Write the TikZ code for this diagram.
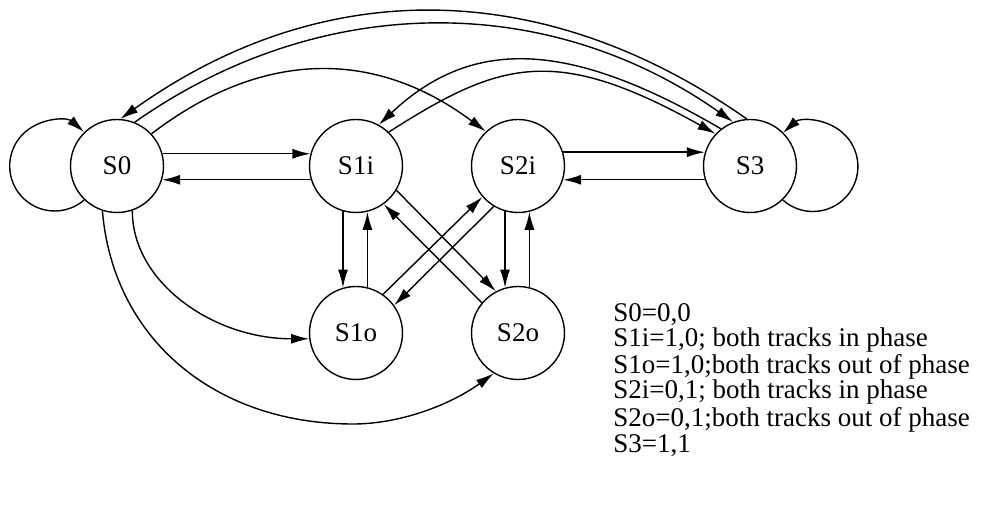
\documentclass[tikz,border=0pt]{standalone}
\usepackage{fontspec}
\setmainfont{Liberation Serif}
\usetikzlibrary{arrows.meta}
\begin{document}
\begin{tikzpicture}[x=0.5pt,y=-0.5pt,
  state/.style={draw, circle, minimum size=46.5pt, inner sep=0pt, line width=0.7pt,
                font=\fontsize{13.5}{16}\selectfont},
  arr/.style={line width=0.7pt, -{Latex[length=9pt,width=5pt]}},
  legendtext/.style={anchor=base west, inner sep=0pt, font=\fontsize{13.5}{16}\selectfont}]
\useasboundingbox (0,0) rectangle (990,507);
% states
\node[state] (S0)  at (117,166) {S0};
\node[state] (S1i) at (356,166) {S1i};
\node[state] (S2i) at (518,166) {S2i};
\node[state] (S3)  at (750,166) {S3};
\node[state] (S1o) at (356,333) {S1o};
\node[state] (S2o) at (518,333) {S2o};
% self loops
\draw[arr] (S0.226) arc[start angle=-49, end angle=-311, radius=22.5pt];
\draw[arr] (S3.-46) arc[start angle=-132, end angle=132, radius=22.5pt];
% horizontal pairs
\draw[arr] (S0.15) -- (S1i.165);
\draw[arr] (S1i.-163) -- (S0.-17);
\draw[arr] (S2i.17) -- (S3.163);
\draw[arr] (S3.-163) -- (S2i.-17);
% vertical pairs
\draw[arr] (S1i.-106) -- (S1o.106);
\draw[arr] (S1o.76) -- (S1i.-76);
\draw[arr] (S2i.-106) -- (S2o.106);
\draw[arr] (S2o.76) -- (S2i.-76);
% diagonals
\draw[arr] (S1i.-31) -- (S2o.118);
\draw[arr] (S2o.140) -- (S1i.-54);
\draw[arr] (S1o.55) -- (S2i.-139);
\draw[arr] (S2i.-121) -- (S1o.36);
% lower curves
\draw[arr] (S0.-71) .. controls (132,282) and (213,339) .. (S1o.187);
\draw[arr] (S0.-108) .. controls (113,338) and (214,424) .. (353,424)
           .. controls (400,424) and (450,405) .. (S2o.-121);
% upper arcs
\draw[arr] (S3.94) .. controls (543,-24) and (322,-25) .. (S0.86);
\draw[arr] (S0.68) .. controls (320,-8) and (547,-9) .. (S3.111);
\draw[arr] (S0.43) .. controls (261,50) and (374,48) .. (S2i.133);
\draw[arr] (S3.128) .. controls (574,43) and (475,34) .. (S1i.61);
\draw[arr] (S1i.46) .. controls (500,61) and (555,44) .. (S3.137);
% legend
\node[legendtext] (l1) at (613,322) {S0=0,0};
\node[legendtext] (l2) at (613,347) {S1i=1,0; both tracks in phase};
\node[legendtext] (l3) at (613,373) {S1o=1,0;both tracks out of phase};
\node[legendtext] (l4) at (613,399) {S2i=0,1; both tracks in phase};
\node[legendtext] (l5) at (613,426) {S2o=0,1;both tracks out of phase};
\node[legendtext] (l6) at (613,452) {S3=1,1};
\end{tikzpicture}
\end{document}
